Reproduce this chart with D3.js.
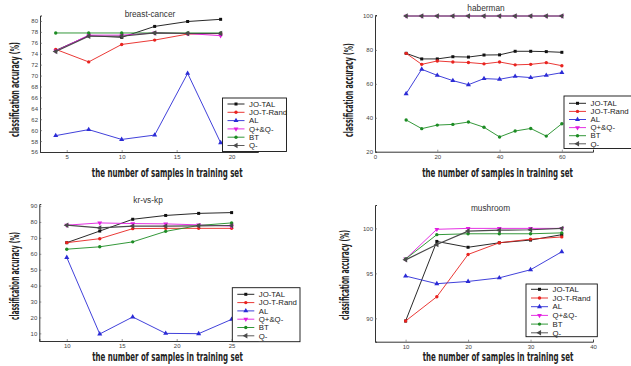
<!DOCTYPE html>
<html><head><meta charset="utf-8">
<script src="https://cdn.jsdelivr.net/npm/d3@7"></script>
<style>
html,body{margin:0;padding:0;background:#fff;}
svg{display:block;}
</style></head>
<body>
<script>
// ---------- DATA ----------
const seriesNames = ["JO-TAL", "JO-T-Rand", "AL", "Q+&Q-", "BT", "Q-"];

const breastX = [4, 7, 10, 13, 16, 19];
const breastJOTAL = [74.6, 77.3, 77.0, 79.0, 79.9, 80.3];
const breastJOTRand = [74.8, 72.5, 75.7, 76.5, 77.6, 77.7];
const breastAL = [59.0, 60.1, 58.3, 59.1, 70.4, 57.7];
const breastQpQm = [74.5, 77.4, 77.4, 77.8, 77.7, 77.3];
const breastBT = [77.8, 77.8, 77.8, 77.8, 77.8, 77.8];
const breastQm = [74.4, 77.2, 77.2, 77.8, 77.7, 77.7];
const breastYTicks = [56, 58, 60, 62, 64, 66, 68, 70, 72, 74, 76, 78, 80];
const breastXTicks = [5, 10, 15, 20];

const haberX = [10, 15, 20, 25, 30, 35, 40, 45, 50, 55, 60];
const haberJOTAL = [78.0, 74.7, 74.7, 76.0, 75.8, 77.0, 77.1, 79.2, 79.2, 79.0, 78.6];
const haberJOTRand = [78.0, 71.5, 73.5, 72.9, 72.6, 71.8, 72.9, 71.2, 71.5, 72.5, 70.7];
const haberAL = [54.2, 68.6, 65.0, 61.9, 59.5, 63.1, 62.7, 64.4, 63.7, 65.0, 66.6];
const haberQpQm = [100, 100, 100, 100, 100, 100, 100, 100, 100, 100, 100];
const haberBT = [38.7, 33.6, 35.7, 36.1, 37.5, 34.4, 28.7, 32.2, 33.7, 29.2, 36.5];
const haberQm = [100, 100, 100, 100, 100, 100, 100, 100, 100, 100, 100];
const haberYTicks = [20, 40, 60, 80, 100];
const haberXTicks = [0, 20, 40, 60];

const krX = [10, 13, 16, 19, 22, 25];
const krJOTAL = [67.0, 74.3, 81.7, 84.1, 85.4, 85.9];
const krJOTRand = [67.0, 69.5, 75.8, 76.0, 76.0, 76.0];
const krAL = [57.7, 9.6, 20.3, 10.0, 9.8, 18.8];
const krQpQm = [78.0, 79.4, 79.0, 78.8, 78.2, 77.4];
const krBT = [62.9, 64.4, 67.5, 74.1, 77.8, 79.4];
const krQm = [78.0, 76.3, 77.4, 77.4, 77.6, 77.8];
const krYTicks = [10, 20, 30, 40, 50, 60, 70, 80, 90];
const krXTicks = [10, 15, 20, 25];

const mushX = [10, 15, 20, 25, 30, 35];
const mushJOTAL = [89.7, 98.55, 97.9, 98.4, 98.7, 99.3];
const mushJOTRand = [89.7, 92.4, 97.1, 98.4, 98.8, 99.05];
const mushAL = [94.7, 93.85, 94.1, 94.5, 95.4, 97.4];
const mushQpQm = [96.6, 99.9, 100, 100, 100, 100];
const mushBT = [96.6, 99.3, 99.4, 99.4, 99.4, 99.5];
const mushQm = [96.5, 98.2, 99.7, 99.8, 99.85, 100];
const mushYTicks = [90, 95, 100];
const mushXTicks = [10, 20, 30, 40];

const panelTitles = ["breast-cancer", "haberman", "kr-vs-kp", "mushroom"];
const xAxisTitle = "the number of samples in training set";
const yAxisTitle = "classification accuracy (%)";

// ---------- STYLE ----------
const colors = ["#111111", "#e8231f", "#2b2bd6", "#e21ce0", "#1d8c24", "#4a4a4a"];
const widths = [0.9, 0.9, 0.9, 0.9, 0.9, 1.2];
const markers = [
  {type: d3.symbolSquare, size: 9, rot: 0},
  {type: d3.symbolCircle, size: 9, rot: 0},
  {type: d3.symbolTriangle, size: 11, rot: 0},
  {type: d3.symbolTriangle, size: 10, rot: 180},
  {type: d3.symbolCircle, size: 9, rot: 0},
  {type: d3.symbolTriangle, size: 13, rot: -90}
];

const W = 631, H = 366;
const svg = d3.select("body").append("svg").attr("width", W).attr("height", H);
svg.append("rect").attr("width", W).attr("height", H).attr("fill", "#fff");

const panels = [
  {title: panelTitles[0], xs: breastX, ys: [breastJOTAL, breastJOTRand, breastAL, breastQpQm, breastBT, breastQm],
   xTicks: breastXTicks, yTicks: breastYTicks,
   xr: [40, 258], xd: [2.57, 22.4], yr: [152, 15.5], yd: [56, 81],
   titleX: 150, titleY: 16.5,
   xtX: 167.2, xtY: 177, xtLen: 151, ytX: 18.5, ytY: 89.5, ytLen: 95,
   leg: {x: 222.5, y: 98, w: 64, h: 53.5, first: 104, step: 8.3}},
  {title: panelTitles[1], xs: haberX, ys: [haberJOTAL, haberJOTRand, haberAL, haberQpQm, haberBT, haberQm],
   xTicks: haberXTicks, yTicks: haberYTicks,
   xr: [375, 593], xd: [0, 70], yr: [151.7, 15], yd: [20, 100.6],
   titleX: 486, titleY: 11,
   xtX: 497.5, xtY: 177, xtLen: 151, ytX: 352.5, ytY: 90, ytLen: 94,
   leg: {x: 564, y: 96, w: 80, h: 52.5, first: 103.3, step: 8.1}},
  {title: panelTitles[2], xs: krX, ys: [krJOTAL, krJOTRand, krAL, krQpQm, krBT, krQm],
   xTicks: krXTicks, yTicks: krYTicks,
   xr: [39.3, 258], xd: [7.5, 27.4], yr: [341, 204], yd: [5.2, 91.3],
   titleX: 148, titleY: 202.5,
   xtX: 167.5, xtY: 361, xtLen: 151, ytX: 18.5, ytY: 276, ytLen: 88,
   leg: {x: 232.3, y: 287.7, w: 67.7, h: 54, first: 294.3, step: 8.3}},
  {title: panelTitles[3], xs: mushX, ys: [mushJOTAL, mushJOTRand, mushAL, mushQpQm, mushBT, mushQm],
   xTicks: mushXTicks, yTicks: mushYTicks,
   xr: [375, 593], xd: [5.1, 40], yr: [341.7, 205], yd: [87.4, 102.6],
   titleX: 490.5, titleY: 210.5,
   xtX: 498, xtY: 361, xtLen: 151, ytX: 348.5, ytY: 275, ytLen: 90,
   leg: {x: 526, y: 284, w: 71.3, h: 52.7, first: 289.3, step: 8.7}}
];

const titleFont = "'Liberation Sans Narrow','Arial Narrow','DejaVu Sans Condensed','Liberation Sans',sans-serif";
const plainFont = "'Liberation Sans',Arial,Helvetica,sans-serif";

// draw a text and stretch it horizontally (via transform) to a target length
function fittedText(g, str, cx, cy, rot, target, size) {
  const t = g.append("text").attr("text-anchor", "middle")
    .attr("font-family", titleFont).attr("font-weight", "bold").attr("font-size", size)
    .attr("fill", "#222").text(str);
  const w = t.node().getComputedTextLength() || target;
  const sx = target / w;
  t.attr("transform", `translate(${cx},${cy}) rotate(${rot}) scale(${sx},1)`);
  return t;
}

panels.forEach(p => {
  const g = svg.append("g");
  const x = d3.scaleLinear().domain(p.xd).range(p.xr);
  const y = d3.scaleLinear().domain(p.yd).range(p.yr);

  // axes (left and bottom only)
  const yAxis = d3.axisLeft(y).tickValues(p.yTicks).tickSize(-2).tickPadding(2).tickFormat(d3.format("d"));
  const xAxis = d3.axisBottom(x).tickValues(p.xTicks).tickSize(-2).tickPadding(3).tickFormat(d3.format("d"));
  const ya = g.append("g").attr("transform", `translate(${p.xr[0]},0)`).call(yAxis);
  const xa = g.append("g").attr("transform", `translate(0,${p.yr[0]})`).call(xAxis);
  [ya, xa].forEach(a => {
    a.select(".domain").attr("stroke", "#333").attr("stroke-width", 1);
    a.selectAll(".tick line").attr("stroke", "#555").attr("stroke-width", 0.6);
    a.selectAll(".tick text").attr("fill", "#444").attr("font-size", 6).attr("font-family", plainFont);
  });

  // title
  g.append("text").attr("x", p.titleX).attr("y", p.titleY).attr("text-anchor", "middle")
    .attr("font-family", plainFont).attr("font-size", 8.3).attr("fill", "#333").text(p.title);

  // axis titles
  fittedText(g, xAxisTitle, p.xtX, p.xtY, 0, p.xtLen, 11.5);
  fittedText(g, yAxisTitle, p.ytX, p.ytY, -90, p.ytLen, 12.5);

  // series
  const line = d3.line().x(d => x(d[0])).y(d => y(d[1]));
  p.ys.forEach((vals, i) => {
    const pts = p.xs.map((xv, k) => [xv, vals[k]]);
    g.append("path").datum(pts).attr("d", line).attr("fill", "none")
      .attr("stroke", colors[i]).attr("stroke-width", widths[i]);
    const sym = d3.symbol().type(markers[i].type).size(markers[i].size);
    g.selectAll(null).data(pts).join("path")
      .attr("d", sym)
      .attr("transform", d => `translate(${x(d[0])},${y(d[1])}) rotate(${markers[i].rot})`)
      .attr("fill", colors[i]);
  });

  // legend
  const L = p.leg;
  const lg = g.append("g");
  lg.append("rect").attr("x", L.x).attr("y", L.y).attr("width", L.w).attr("height", L.h)
    .attr("fill", "#fff").attr("stroke", "#111").attr("stroke-width", 0.9);
  seriesNames.forEach((name, i) => {
    const yy = L.first + i * L.step;
    lg.append("line").attr("x1", L.x + 5).attr("x2", L.x + 22).attr("y1", yy).attr("y2", yy)
      .attr("stroke", colors[i]).attr("stroke-width", 0.9);
    lg.append("path").attr("d", d3.symbol().type(markers[i].type).size(markers[i].size)())
      .attr("transform", `translate(${L.x + 13.5},${yy}) rotate(${markers[i].rot})`).attr("fill", colors[i]);
    lg.append("text").attr("x", L.x + 26.5).attr("y", yy).attr("dy", "0.35em")
      .attr("font-family", plainFont).attr("font-size", 7.8).attr("fill", "#222").text(name);
  });
});
</script>
</body></html>
